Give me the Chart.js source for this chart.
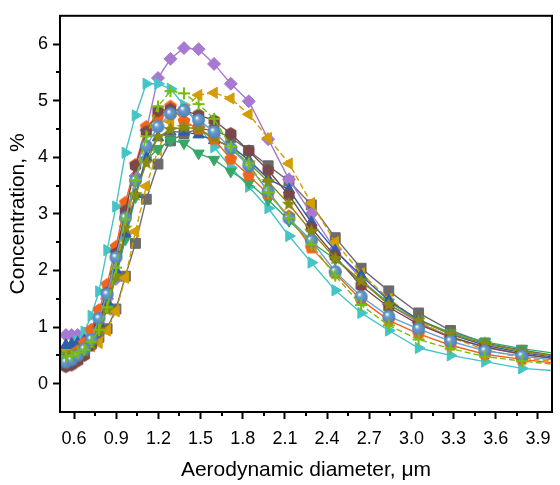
<!DOCTYPE html>
<html>
<head>
<meta charset="utf-8">
<script src="https://cdn.jsdelivr.net/npm/chart.js@4/dist/chart.umd.min.js"></script>
<style>
  html, body { margin: 0; padding: 0; background: #fff; }
</style>
</head>
<body>
<canvas id="c" width="560" height="485"></canvas>
<script>
'use strict';

// aerodynamic diameter bins, um
var diameters = [0.542, 0.583, 0.626, 0.673, 0.723, 0.777, 0.835, 0.898, 0.965, 1.037,
                 1.114, 1.197, 1.286, 1.382, 1.486, 1.596, 1.715, 1.843, 1.981, 2.129,
                 2.288, 2.458, 2.642, 2.839, 3.051, 3.278, 3.523, 3.786, 4.068];

// concentration, %
var squareSeries  = [0.58, 0.60, 0.62, 0.66, 0.72, 0.82, 0.97, 1.32, 1.90, 2.48, 3.26, 3.88, 4.29, 4.42, 4.50, 4.48, 4.35, 4.12, 3.85, 3.58, 3.16, 2.58, 2.04, 1.64, 1.25, 0.94, 0.72, 0.59, 0.48];
var pentaSeries   = [0.45, 0.50, 0.58, 0.72, 0.95, 1.30, 1.75, 2.42, 3.20, 3.87, 4.54, 4.71, 4.90, 4.64, 4.50, 4.32, 3.97, 3.68, 3.35, 2.96, 2.40, 1.95, 1.48, 1.12, 0.88, 0.68, 0.52, 0.43, 0.35];
var triUpSeries   = [0.68, 0.70, 0.72, 0.76, 0.85, 1.05, 1.45, 2.00, 2.65, 3.35, 4.00, 4.35, 4.45, 4.45, 4.40, 4.30, 4.20, 3.95, 3.62, 3.43, 2.85, 2.35, 1.91, 1.47, 1.13, 0.87, 0.68, 0.55, 0.45];
var triDownSeries = [0.50, 0.52, 0.56, 0.63, 0.75, 0.98, 1.35, 1.90, 2.55, 3.30, 3.95, 4.15, 4.30, 4.25, 4.07, 3.96, 3.75, 3.55, 3.25, 2.88, 2.50, 2.20, 1.80, 1.44, 1.13, 0.90, 0.74, 0.62, 0.52];
var diamondSeries = [0.86, 0.86, 0.86, 0.88, 0.95, 1.06, 1.50, 1.85, 2.65, 3.67, 4.48, 5.40, 5.74, 5.93, 5.91, 5.65, 5.30, 4.99, 4.32, 3.61, 3.00, 2.37, 1.85, 1.40, 1.08, 0.83, 0.64, 0.52, 0.42];
var triRightSeries= [0.55, 0.62, 0.75, 0.92, 1.20, 1.63, 2.36, 3.13, 4.08, 4.74, 5.30, 5.30, 5.21, 4.92, 4.55, 4.18, 3.82, 3.48, 3.10, 2.61, 2.14, 1.65, 1.25, 0.94, 0.63, 0.50, 0.39, 0.27, 0.22];
var triLeftSeries = [0.62, 0.63, 0.63, 0.64, 0.66, 0.72, 0.94, 1.28, 1.87, 2.69, 3.49, 4.13, 4.63, 4.85, 5.10, 5.14, 5.04, 4.76, 4.34, 3.89, 3.19, 2.50, 1.95, 1.50, 1.10, 0.82, 0.60, 0.46, 0.38];
var hexSeries     = [0.30, 0.33, 0.40, 0.50, 0.68, 1.00, 1.60, 2.30, 3.05, 3.85, 4.45, 4.82, 4.85, 4.82, 4.75, 4.65, 4.42, 4.11, 3.77, 3.33, 2.75, 2.25, 1.73, 1.35, 1.05, 0.82, 0.65, 0.52, 0.43];
var starSeries    = [0.48, 0.50, 0.52, 0.58, 0.70, 0.95, 1.30, 1.90, 2.75, 3.34, 3.90, 4.36, 4.49, 4.53, 4.50, 4.35, 4.15, 3.90, 3.57, 3.17, 2.69, 2.21, 1.82, 1.39, 1.12, 0.88, 0.71, 0.57, 0.47];
var plusSeries    = [0.48, 0.50, 0.55, 0.60, 0.74, 0.95, 1.35, 2.05, 2.90, 3.60, 4.37, 4.90, 5.17, 5.13, 4.94, 4.68, 4.19, 3.89, 3.38, 2.93, 2.46, 1.91, 1.39, 1.03, 0.78, 0.62, 0.48, 0.40, 0.33];
var sphereSeries  = [0.38, 0.42, 0.50, 0.61, 0.78, 1.15, 1.58, 2.23, 2.93, 3.59, 4.20, 4.54, 4.77, 4.83, 4.66, 4.45, 4.16, 3.85, 3.40, 2.92, 2.53, 1.98, 1.54, 1.19, 0.97, 0.75, 0.58, 0.49, 0.40];

var xTicks = [0.6, 0.9, 1.2, 1.5, 1.8, 2.1, 2.4, 2.7, 3.0, 3.3, 3.6, 3.9];
var xMinorTicks = [0.75, 1.05, 1.35, 1.65, 1.95, 2.25, 2.55, 2.85, 3.15, 3.45, 3.75];
var yTicks = [0, 1, 2, 3, 4, 5, 6];
var yMinorTicks = [0.5, 1.5, 2.5, 3.5, 4.5, 5.5];

// ---- marker images ----
function makeCanvas(size) {
    var c = document.createElement('canvas');
    c.width = size; c.height = size;
    return c;
}

function polygonMarker(color, sides, r, rot) {
    var c = makeCanvas(Math.ceil(r * 2 + 2));
    var g = c.getContext('2d');
    var m = c.width / 2;
    g.fillStyle = color;
    g.beginPath();
    for (var i = 0; i < sides; i++) {
        var a = rot + i * 2 * Math.PI / sides;
        g.lineTo(m + r * Math.cos(a), m + r * Math.sin(a));
    }
    g.closePath();
    g.fill();
    return c;
}

function starMarker(color, ro, ri) {
    var c = makeCanvas(Math.ceil(ro * 2 + 2));
    var g = c.getContext('2d');
    var m = c.width / 2;
    g.fillStyle = color;
    g.beginPath();
    for (var i = 0; i < 10; i++) {
        var a = -Math.PI / 2 + i * Math.PI / 5;
        var r = i % 2 ? ri : ro;
        g.lineTo(m + r * Math.cos(a), m + r * Math.sin(a));
    }
    g.closePath();
    g.fill();
    return c;
}

function plusMarker(color, half, w) {
    var c = makeCanvas(half * 2 + 2);
    var g = c.getContext('2d');
    var m = c.width / 2;
    g.strokeStyle = color;
    g.lineWidth = w;
    g.beginPath();
    g.moveTo(m - half, m); g.lineTo(m + half, m);
    g.moveTo(m, m - half); g.lineTo(m, m + half);
    g.stroke();
    return c;
}

function sphereMarker(color, r) {
    var c = makeCanvas(Math.ceil(r * 2 + 2));
    var g = c.getContext('2d');
    var m = c.width / 2;
    var grad = g.createRadialGradient(m - r * 0.3, m - r * 0.35, 0.5, m, m, r);
    grad.addColorStop(0, '#ffffff');
    grad.addColorStop(0.3, color);
    grad.addColorStop(1, '#4f7fb0');
    g.fillStyle = grad;
    g.beginPath();
    g.arc(m, m, r, 0, 2 * Math.PI);
    g.fill();
    return c;
}

var C = {
    gray: '#6b6b6b', orange: '#f0641c', blue: '#2e5ea8', green: '#36a866',
    purple: '#a77ad0', cyan: '#45c4c8', gold: '#d49d00', brown: '#7a4848',
    olive: '#8a8a0e', lime: '#76be12', sphere: '#6a9fd2'
};

function series(data, color, style, radius, rotation, dash) {
    return {
        data: data.map(function(v, i) { return {x: diameters[i], y: v}; }),
        borderColor: color,
        backgroundColor: color,
        borderWidth: 1.4,
        borderDash: dash || [],
        pointStyle: style,
        pointRadius: radius || 6,
        pointRotation: rotation || 0,
        pointBackgroundColor: color,
        pointBorderColor: color,
        pointBorderWidth: 1,
        tension: 0,
        clip: 0
    };
}

// first dataset is drawn on top
var datasets = [
    series(plusSeries, C.lime, plusMarker(C.lime, 6, 2), 6, 0, [6, 3]),
    series(sphereSeries, C.sphere, sphereMarker(C.sphere, 6.5)),
    series(starSeries, C.olive, starMarker(C.olive, 7.5, 3.3)),
    series(hexSeries, C.brown, polygonMarker(C.brown, 6, 6.5, Math.PI / 6)),
    series(pentaSeries, C.orange, polygonMarker(C.orange, 5, 6.8, -Math.PI / 2)),
    series(triUpSeries, C.blue, 'triangle', 6.5, 0),
    series(triDownSeries, C.green, 'triangle', 6.5, 180),
    series(triLeftSeries, C.gold, 'triangle', 6.5, -90, [6, 3]),
    series(triRightSeries, C.cyan, 'triangle', 6.5, 90),
    series(diamondSeries, C.purple, 'rectRot', 6.5),
    series(squareSeries, C.gray, 'rect', 7)
];

var frameAndMinor = {
    id: 'frameAndMinor',
    afterDraw: function(chart) {
        var ctx = chart.ctx, a = chart.chartArea;
        var x = chart.scales.x, y = chart.scales.y;
        ctx.save();
        ctx.strokeStyle = '#000';
        ctx.lineWidth = 2;
        ctx.beginPath();
        xMinorTicks.forEach(function(v) {
            var px = Math.round(x.getPixelForValue(v));
            ctx.moveTo(px, a.bottom); ctx.lineTo(px, a.bottom + 4);
        });
        yMinorTicks.forEach(function(v) {
            var py = Math.round(y.getPixelForValue(v));
            ctx.moveTo(a.left, py); ctx.lineTo(a.left - 4, py);
        });
        ctx.stroke();
        ctx.strokeRect(a.left, a.top, a.right - a.left, a.bottom - a.top);
        ctx.restore();
    }
};

var font = 'Liberation Sans, Arial, sans-serif';
Chart.defaults.font.family = font;
Chart.defaults.color = '#000';

new Chart(document.getElementById('c'), {
    type: 'line',
    data: {datasets: datasets},
    options: {
        responsive: false,
        animation: false,
        events: [],
        layout: {padding: {top: 12, right: 3, left: 0, bottom: 0}},
        plugins: {legend: {display: false}, tooltip: {enabled: false}},
        scales: {
            x: {
                type: 'linear',
                min: 0.5, max: 4.0,
                afterBuildTicks: function(scale) {
                    scale.ticks = xTicks.map(function(v) { return {value: v}; });
                },
                afterFit: function(scale) { scale.height = 73; },
                ticks: {
                    autoSkip: false, maxRotation: 0, padding: 9,
                    font: {size: 18},
                    callback: function(v) { return v.toFixed(1); }
                },
                grid: {drawOnChartArea: false, tickLength: 7, tickWidth: 2, tickColor: '#000'},
                border: {display: true, color: '#000', width: 2},
                title: {display: true, text: 'Aerodynamic diameter, μm', font: {size: 21}, padding: {top: 4, bottom: 2}}
            },
            y: {
                min: -0.5, max: 6.5,
                afterBuildTicks: function(scale) {
                    scale.ticks = yTicks.map(function(v) { return {value: v}; });
                },
                afterFit: function(scale) { scale.width = 60; },
                ticks: {padding: 5, font: {size: 18}},
                grid: {drawOnChartArea: false, tickLength: 7, tickWidth: 2, tickColor: '#000'},
                border: {display: true, color: '#000', width: 2},
                title: {display: true, text: 'Concentration, %', font: {size: 21}, padding: {top: 6, bottom: 2}}
            }
        }
    },
    plugins: [frameAndMinor]
});
</script>
</body>
</html>
